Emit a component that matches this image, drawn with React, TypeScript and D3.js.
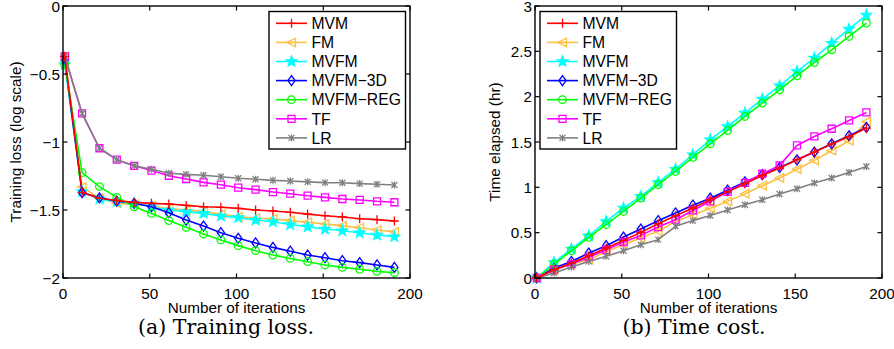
import { useRef, useEffect } from "react";
import * as d3 from "d3";

// iteration index of every recorded point
const ITERS = [1, 11, 21, 31, 41, 51, 61, 71, 81, 91, 101, 111, 121, 131, 141, 151, 161, 171, 181, 191];

// (a) training loss, log scale
const LOSS_MVM = [-0.37, -1.37, -1.414, -1.43, -1.444, -1.451, -1.456, -1.466, -1.476, -1.48, -1.488, -1.5, -1.507, -1.517, -1.53, -1.542, -1.551, -1.564, -1.571, -1.581];
const LOSS_FM = [-0.37, -1.33, -1.414, -1.451, -1.458, -1.47, -1.49, -1.5, -1.512, -1.532, -1.549, -1.561, -1.565, -1.578, -1.59, -1.603, -1.615, -1.63, -1.647, -1.66];
const LOSS_MVFM = [-0.43, -1.365, -1.42, -1.439, -1.451, -1.476, -1.5, -1.512, -1.525, -1.544, -1.556, -1.574, -1.586, -1.607, -1.623, -1.64, -1.652, -1.667, -1.684, -1.696];
const LOSS_MVFM3D = [-0.4, -1.373, -1.41, -1.434, -1.451, -1.476, -1.52, -1.574, -1.618, -1.667, -1.708, -1.742, -1.775, -1.803, -1.831, -1.851, -1.873, -1.887, -1.904, -1.922];
const LOSS_MVFMREG = [-0.43, -1.225, -1.328, -1.407, -1.476, -1.525, -1.578, -1.627, -1.676, -1.72, -1.762, -1.799, -1.831, -1.856, -1.88, -1.904, -1.922, -1.936, -1.951, -1.961];
const LOSS_TF = [-0.37, -0.79, -1.046, -1.13, -1.175, -1.21, -1.248, -1.272, -1.297, -1.314, -1.336, -1.35, -1.368, -1.38, -1.395, -1.407, -1.419, -1.426, -1.436, -1.443];
const LOSS_LR = [-0.37, -0.79, -1.046, -1.13, -1.175, -1.2, -1.23, -1.238, -1.245, -1.255, -1.267, -1.274, -1.282, -1.287, -1.293, -1.299, -1.3, -1.306, -1.311, -1.316];

// (b) time elapsed, hours
const TIME_MVM = [0, 0.092, 0.165, 0.246, 0.331, 0.415, 0.503, 0.599, 0.687, 0.772, 0.863, 0.95, 1.04, 1.13, 1.213, 1.304, 1.389, 1.478, 1.56, 1.653];
const TIME_FM = [0, 0.092, 0.154, 0.2, 0.29, 0.37, 0.44, 0.515, 0.625, 0.695, 0.77, 0.845, 0.928, 1.018, 1.103, 1.2, 1.297, 1.404, 1.514, 1.725];
const TIME_MVFM = [0, 0.172, 0.32, 0.466, 0.624, 0.772, 0.9, 1.054, 1.2, 1.36, 1.525, 1.671, 1.819, 1.974, 2.12, 2.278, 2.426, 2.59, 2.745, 2.9];
const TIME_MVFM3D = [0, 0.11, 0.183, 0.275, 0.356, 0.452, 0.54, 0.632, 0.717, 0.803, 0.88, 0.968, 1.06, 1.139, 1.22, 1.304, 1.389, 1.48, 1.569, 1.66];
const TIME_MVFMREG = [0, 0.154, 0.301, 0.448, 0.588, 0.734, 0.882, 1.029, 1.175, 1.33, 1.48, 1.627, 1.782, 1.929, 2.076, 2.23, 2.377, 2.517, 2.664, 2.81];
const TIME_TF = [0, 0.092, 0.154, 0.23, 0.31, 0.397, 0.47, 0.562, 0.643, 0.745, 0.845, 0.95, 1.05, 1.15, 1.242, 1.462, 1.561, 1.646, 1.738, 1.826];
const TIME_LR = [0, 0.055, 0.121, 0.183, 0.239, 0.301, 0.367, 0.423, 0.57, 0.633, 0.689, 0.75, 0.808, 0.863, 0.926, 0.985, 1.047, 1.103, 1.164, 1.23];

const SERIES_NAMES = ["MVM", "FM", "MVFM", "MVFM\u22123D", "MVFM\u2212REG", "TF", "LR"];
const COLORS = ["#ff0000", "#ffbf40", "#00ffff", "#0000ff", "#00ff00", "#ff00ff", "#808080"];
const MARKERS = ["plus", "triangle", "star", "diamond", "circle", "square", "asterisk"];
// MATLAB-ish draw order: red ends up on top
const DRAW_ORDER = [1, 2, 3, 4, 5, 6, 0];

const X_TICKS = [0, 50, 100, 150, 200];
const LOSS_TICKS = [-2, -1.5, -1, -0.5, 0];
const TIME_TICKS = [0, 0.5, 1, 1.5, 2, 2.5, 3];

const SANS = "'Liberation Sans', Arial, Helvetica, sans-serif";
const SERIF = "'DejaVu Serif', 'Liberation Serif', serif";

function markerPath(type: string): string {
  switch (type) {
    case "plus":
      return "M-4.5,0H4.5M0,-4.5V4.5";
    case "triangle":
      return "M-4.5,0L4,-4.2L4,4.2Z";
    case "diamond":
      return "M0,-5L3.6,0L0,5L-3.6,0Z";
    case "circle":
      return "M3.8,0A3.8,3.8 0 1 1 -3.8,0A3.8,3.8 0 1 1 3.8,0Z";
    case "square":
      return "M-3.5,-3.5H3.5V3.5H-3.5Z";
    case "asterisk":
      return "M-3,-3L3,3M-3,3L3,-3M0,-3.5V3.5";
    case "star": {
      const pts: string[] = [];
      for (let k = 0; k < 10; k++) {
        const r = k % 2 === 0 ? 5.5 : 2.3;
        const a = -Math.PI / 2 + (k * Math.PI) / 5;
        pts.push(`${(r * Math.cos(a)).toFixed(2)},${(r * Math.sin(a)).toFixed(2)}`);
      }
      return "M" + pts.join("L") + "Z";
    }
  }
  return "";
}

interface PanelConfig {
  left: number;
  right: number;
  top: number;
  bottom: number;
  yDomain: [number, number];
  yTicks: number[];
  series: number[][];
  yLabel: string;
  yLabelX: number;
  legendX: number;
  caption: string;
  captionX: number;
}

function fmt(v: number) {
  return v < 0 ? "\u2212" + String(-v) : String(v);
}

function drawPanel(svg: d3.Selection<SVGSVGElement, unknown, null, undefined>, cfg: PanelConfig) {
  const x = d3.scaleLinear().domain([0, 200]).range([cfg.left, cfg.right]);
  const y = d3.scaleLinear().domain(cfg.yDomain).range([cfg.bottom, cfg.top]);
  const g = svg.append("g");
  const tickLen = 4.5;

  // series
  const line = d3.line<number>().x((_, i) => x(ITERS[i])).y((d) => y(d));
  DRAW_ORDER.forEach((si) => {
    const vals = cfg.series[si];
    const sg = g.append("g");
    sg.append("path")
      .attr("d", line(vals))
      .attr("fill", "none")
      .attr("stroke", COLORS[si])
      .attr("stroke-width", 1.6)
      .attr("stroke-linejoin", "round");
    sg.selectAll("path.m")
      .data(vals)
      .join("path")
      .attr("class", "m")
      .attr("transform", (d, i) => `translate(${x(ITERS[i])},${y(d)})`)
      .attr("d", markerPath(MARKERS[si]))
      .attr("fill", MARKERS[si] === "star" ? COLORS[si] : "none")
      .attr("stroke", COLORS[si])
      .attr("stroke-width", 1.3);
  });

  // frame + inward ticks
  g.append("rect")
    .attr("x", cfg.left).attr("y", cfg.top)
    .attr("width", cfg.right - cfg.left).attr("height", cfg.bottom - cfg.top)
    .attr("fill", "none").attr("stroke", "#000").attr("stroke-width", 1.4);

  X_TICKS.forEach((t) => {
    g.append("line").attr("x1", x(t)).attr("x2", x(t)).attr("y1", cfg.bottom).attr("y2", cfg.bottom - tickLen).attr("stroke", "#000").attr("stroke-width", 1.2);
    g.append("line").attr("x1", x(t)).attr("x2", x(t)).attr("y1", cfg.top).attr("y2", cfg.top + tickLen).attr("stroke", "#000").attr("stroke-width", 1.2);
    g.append("text").attr("x", x(t)).attr("y", cfg.bottom + 20.5).attr("text-anchor", "middle")
      .style("font-family", SANS).style("font-size", "15.3px").text(String(t));
  });
  cfg.yTicks.forEach((t) => {
    g.append("line").attr("x1", cfg.left).attr("x2", cfg.left + tickLen).attr("y1", y(t)).attr("y2", y(t)).attr("stroke", "#000").attr("stroke-width", 1.2);
    g.append("line").attr("x1", cfg.right).attr("x2", cfg.right - tickLen).attr("y1", y(t)).attr("y2", y(t)).attr("stroke", "#000").attr("stroke-width", 1.2);
    g.append("text").attr("x", cfg.left - 3).attr("y", Math.max(y(t) + 5.5, 12)).attr("text-anchor", "end")
      .style("font-family", SANS).style("font-size", "15.3px").text(fmt(t));
  });

  // axis labels
  g.append("text")
    .attr("x", (cfg.left + cfg.right) / 2).attr("y", cfg.bottom + 35)
    .attr("text-anchor", "middle")
    .style("font-family", SANS).style("font-size", "15.3px")
    .text("Number of iterations");
  g.append("text")
    .attr("transform", `translate(${cfg.yLabelX},${(cfg.top + cfg.bottom) / 2}) rotate(-90)`)
    .attr("text-anchor", "middle")
    .style("font-family", SANS).style("font-size", "15.3px")
    .text(cfg.yLabel);

  // caption
  g.append("text")
    .attr("x", cfg.captionX).attr("y", 334)
    .attr("text-anchor", "middle")
    .style("font-family", SERIF).style("font-size", "20.5px")
    .text(cfg.caption);

  // legend
  const lg = g.append("g").attr("transform", `translate(${cfg.legendX},11.5)`);
  lg.append("rect").attr("width", 136.5).attr("height", 137.5).attr("fill", "#fff").attr("stroke", "#000").attr("stroke-width", 1.4);
  SERIES_NAMES.forEach((name, i) => {
    const ry = 11.8 + i * 19.1;
    lg.append("line").attr("x1", 7).attr("x2", 38).attr("y1", ry).attr("y2", ry).attr("stroke", COLORS[i]).attr("stroke-width", 1.6);
    lg.append("path")
      .attr("transform", `translate(22.5,${ry})`)
      .attr("d", markerPath(MARKERS[i]))
      .attr("fill", MARKERS[i] === "star" ? COLORS[i] : "none")
      .attr("stroke", COLORS[i]).attr("stroke-width", 1.3);
    lg.append("text").attr("x", 42.5).attr("y", ry + 5.7)
      .style("font-family", SANS).style("font-size", "15.7px").text(name);
  });
}

export default function App() {
  const svgRef = useRef<SVGSVGElement>(null);

  useEffect(() => {
    if (!svgRef.current) return;
    const svg = d3.select(svgRef.current);
    svg.selectAll("*").remove();

    drawPanel(svg, {
      left: 63, right: 410, top: 6, bottom: 278,
      yDomain: [-2, 0], yTicks: LOSS_TICKS,
      series: [LOSS_MVM, LOSS_FM, LOSS_MVFM, LOSS_MVFM3D, LOSS_MVFMREG, LOSS_TF, LOSS_LR],
      yLabel: "Training loss (log scale)", yLabelX: 21,
      legendX: 269,
      caption: "(a) Training loss.", captionX: 226,
    });
    drawPanel(svg, {
      left: 535, right: 882, top: 6, bottom: 278,
      yDomain: [0, 3], yTicks: TIME_TICKS,
      series: [TIME_MVM, TIME_FM, TIME_MVFM, TIME_MVFM3D, TIME_MVFMREG, TIME_TF, TIME_LR],
      yLabel: "Time elapsed (hr)", yLabelX: 500,
      legendX: 540,
      caption: "(b) Time cost.", captionX: 694,
    });
  }, []);

  return (
    <svg
      ref={svgRef}
      width={894}
      height={349}
      style={{ position: "absolute", left: 0, top: 0, background: "#fff" }}
    />
  );
}
